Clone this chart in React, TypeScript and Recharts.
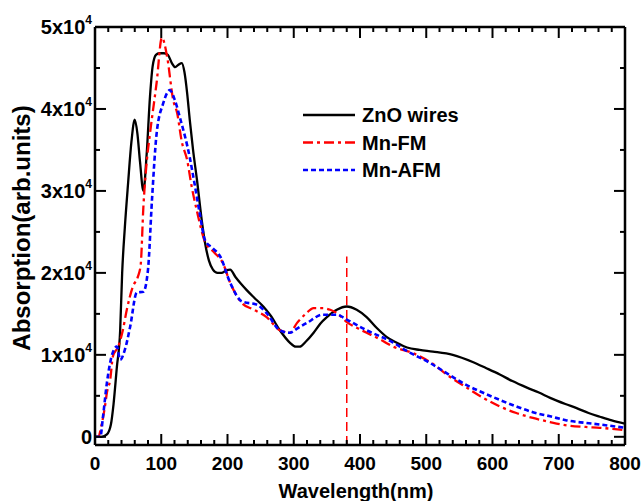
import { LineChart, Line, XAxis, YAxis, ReferenceLine } from "recharts";

// wavelength (nm) / absorption values
const znoX = [0, 10, 18, 24, 28, 33, 38, 41, 45, 50, 55, 60, 64, 68, 73, 78, 83, 87, 92, 97, 104, 110, 116, 121, 126, 131, 135, 139, 143, 148, 154, 161, 166, 172, 178, 185, 191, 198, 204, 212, 220, 229, 240, 254, 265, 279, 294, 303, 309, 318, 330, 340, 350, 365, 380, 395, 410, 425, 440, 455, 471, 490, 510, 540, 571, 590, 611, 630, 652, 670, 687, 710, 727, 745, 762, 780, 800];
const znoY = [0, 0, 300, 1500, 4000, 8500, 13000, 20000, 25500, 31000, 36000, 38700, 37000, 33500, 30000, 34500, 41500, 45200, 46600, 46800, 46800, 46600, 45600, 45100, 45400, 45600, 44500, 42000, 38700, 35000, 31300, 26500, 23700, 21500, 20400, 20000, 20000, 20300, 20400, 19500, 18700, 17900, 17000, 15900, 14800, 13000, 11500, 11000, 11000, 11600, 12700, 13800, 14600, 15500, 15900, 15500, 14600, 13300, 12200, 11500, 10900, 10600, 10400, 10000, 9100, 8400, 7600, 6800, 6000, 5400, 4750, 4000, 3500, 2900, 2450, 2000, 1600];

const fmX = [0, 5, 10, 15, 18, 23, 27, 35, 42, 48, 57, 65, 69, 73, 78, 83, 93, 101, 109, 118, 124, 131, 139, 146, 154, 166, 180, 193, 204, 222, 240, 259, 279, 294, 305, 318, 330, 344, 355, 365, 380, 395, 410, 430, 450, 480, 506, 536, 561, 585, 611, 636, 661, 687, 712, 740, 762, 800];
const fmY = [0, 0, 1500, 3700, 5400, 7000, 9800, 11000, 13000, 15500, 18300, 19600, 21000, 28000, 33500, 37000, 43200, 48700, 46300, 41100, 39500, 36000, 33800, 30500, 27500, 23800, 22500, 21200, 18800, 16300, 15500, 14600, 13000, 12700, 13900, 15000, 15700, 15700, 15500, 15100, 14000, 13300, 12700, 11900, 11000, 10200, 9100, 7300, 6000, 4800, 3700, 2900, 2300, 1800, 1400, 1200, 1100, 800];

const afmX = [0, 8, 12, 18, 25, 33, 38, 45, 53, 63, 73, 80, 86, 93, 103, 113, 120, 128, 143, 150, 158, 166, 178, 189, 204, 222, 245, 259, 279, 294, 305, 320, 344, 365, 380, 410, 450, 470, 506, 536, 561, 585, 611, 636, 661, 687, 712, 740, 762, 800];
const afmY = [0, 0, 2400, 6600, 9800, 11000, 9400, 10600, 13400, 17600, 17700, 20400, 28900, 37000, 40700, 42300, 41200, 39000, 34100, 31000, 27300, 24000, 23000, 22000, 18800, 16500, 16100, 15100, 13000, 12700, 13200, 13900, 14900, 14900, 14300, 13000, 11500, 10500, 9000, 7500, 6300, 5400, 4500, 3700, 3000, 2500, 2000, 1700, 1500, 1100];

const seriesNames = ["ZnO wires", "Mn-FM", "Mn-AFM"];

const xTicks = [0, 20, 40, 60, 80, 100, 120, 140, 160, 180, 200, 220, 240, 260, 280, 300, 320, 340, 360, 380, 400, 420, 440, 460, 480, 500, 520, 540, 560, 580, 600, 620, 640, 660, 680, 700, 720, 740, 760, 780, 800];
const yTicks = [0, 5000, 10000, 15000, 20000, 25000, 30000, 35000, 40000, 45000, 50000];
const xDomain = [0, 800];
const yDomain = [-1000, 50000];
const markerX = 380;
const markerTop = 22000;

const toPoints = (xs: number[], ys: number[]) =>
  xs.map((x, i) => ({ x, y: ys[i] }));

const styles = [
  { color: "#000000", dash: undefined, width: 2.3 },
  { color: "#ff0000", dash: "10 4 3 4", width: 2.3 },
  { color: "#0000ff", dash: "5 3", width: 2.6 },
];

const FONT = "'Liberation Sans', Arial, sans-serif";

// plot box layout
const W = 644;
const H = 501;
const M = { top: 27, right: 19, left: 95, bottom: 56 };
const PW = W - M.left - M.right;
const PH = H - M.top - M.bottom;

// tick length in px -> data units, so the marks go through the chart's scales
const dx = (px: number) => (px * (xDomain[1] - xDomain[0])) / PW;
const dy = (px: number) => (px * (yDomain[1] - yDomain[0])) / PH;
const xLen = (v: number) => (v % 100 === 0 ? 11 : 5);
const yLen = (v: number) => (v % 10000 === 0 ? 11 : 5);

const BottomTick = (props: any) => {
  const { x, y, payload } = props;
  if (payload.value % 100 !== 0) return <g />;
  return (
    <text x={x} y={y + 25} textAnchor="middle" fontSize={19} fontWeight="bold" fontFamily={FONT} fill="#000">
      {payload.value}
    </text>
  );
};

const LeftTick = (props: any) => {
  const { x, y, payload } = props;
  const v = payload.value;
  if (v % 10000 !== 0) return <g />;
  return (
    <text x={x - 3} y={y + 7} textAnchor="end" fontSize={20} fontWeight="bold" fontFamily={FONT} fill="#000">
      {v === 0 ? "0" : `${v / 10000}x10`}
      {v !== 0 && (
        <tspan dy={-10} fontSize={12}>
          4
        </tspan>
      )}
    </text>
  );
};

const data = [toPoints(znoX, znoY), toPoints(fmX, fmY), toPoints(afmX, afmY)];

const tickMark = { stroke: "#000", strokeWidth: 2, ifOverflow: "visible" as const };

export default function App() {
  return (
    <div style={{ position: "absolute", left: 0, top: 0, width: W, height: H, background: "#fff", fontFamily: FONT }}>
      <LineChart width={W} height={H} margin={{ top: M.top, right: M.right, bottom: 0, left: 0 }}>
        <XAxis
          type="number"
          dataKey="x"
          domain={xDomain}
          ticks={xTicks}
          interval={0}
          height={M.bottom}
          tickSize={0}
          tickMargin={0}
          tickLine={false}
          axisLine={{ stroke: "#000", strokeWidth: 2.5 }}
          tick={BottomTick}
          allowDataOverflow
        />
        <YAxis
          type="number"
          domain={yDomain}
          ticks={yTicks}
          interval={0}
          width={M.left}
          tickSize={0}
          tickMargin={0}
          tickLine={false}
          axisLine={{ stroke: "#000", strokeWidth: 2.5 }}
          tick={LeftTick}
          allowDataOverflow
        />
        <ReferenceLine
          segment={[
            { x: markerX, y: yDomain[0] },
            { x: markerX, y: markerTop },
          ]}
          stroke="#ff0000"
          strokeWidth={1.5}
          strokeDasharray="9 5"
        />
        {data.map((pts, i) => (
          <Line
            key={seriesNames[i]}
            data={pts}
            dataKey="y"
            name={seriesNames[i]}
            type="monotone"
            stroke={styles[i].color}
            strokeWidth={styles[i].width}
            strokeDasharray={styles[i].dash}
            dot={false}
            activeDot={false}
            isAnimationActive={false}
          />
        ))}
        {/* box frame: top and right edges */}
        <ReferenceLine y={yDomain[1]} stroke="#000" strokeWidth={2.5} ifOverflow="visible" />
        <ReferenceLine x={xDomain[1]} stroke="#000" strokeWidth={2.5} ifOverflow="visible" />
        {/* inward ticks on all four sides */}
        {xTicks.map((v) => (
          <ReferenceLine
            key={`b${v}`}
            segment={[
              { x: v, y: yDomain[0] },
              { x: v, y: yDomain[0] + dy(xLen(v)) },
            ]}
            {...tickMark}
          />
        ))}
        {xTicks.map((v) => (
          <ReferenceLine
            key={`t${v}`}
            segment={[
              { x: v, y: yDomain[1] },
              { x: v, y: yDomain[1] - dy(xLen(v)) },
            ]}
            {...tickMark}
          />
        ))}
        {yTicks.map((v) => (
          <ReferenceLine
            key={`l${v}`}
            segment={[
              { x: xDomain[0], y: v },
              { x: xDomain[0] + dx(yLen(v)), y: v },
            ]}
            {...tickMark}
          />
        ))}
        {yTicks.map((v) => (
          <ReferenceLine
            key={`r${v}`}
            segment={[
              { x: xDomain[1], y: v },
              { x: xDomain[1] - dx(yLen(v)), y: v },
            ]}
            {...tickMark}
          />
        ))}
      </LineChart>
      <svg width={W} height={H} style={{ position: "absolute", left: 0, top: 0, pointerEvents: "none" }}>
        <text x={M.left + PW / 2 - 4} y={H - 3} textAnchor="middle" fontSize={20} fontWeight="bold" fontFamily={FONT} fill="#000">
          Wavelength(nm)
        </text>
        <text
          x={30}
          y={M.top + PH / 2 - 8}
          transform={`rotate(-90 30 ${M.top + PH / 2 - 8})`}
          textAnchor="middle"
          fontSize={24}
          fontWeight="bold"
          fontFamily={FONT}
          fill="#000"
        >
          Absorption(arb.units)
        </text>
        {seriesNames.map((name, i) => (
          <g key={name}>
            <line
              x1={303}
              x2={355}
              y1={115 + i * 27.5}
              y2={115 + i * 27.5}
              stroke={styles[i].color}
              strokeWidth={styles[i].width}
              strokeDasharray={styles[i].dash}
            />
            <text x={362} y={115 + i * 27.5 + 7} fontSize={20} fontWeight="bold" fontFamily={FONT} fill="#000">
              {name}
            </text>
          </g>
        ))}
      </svg>
    </div>
  );
}
